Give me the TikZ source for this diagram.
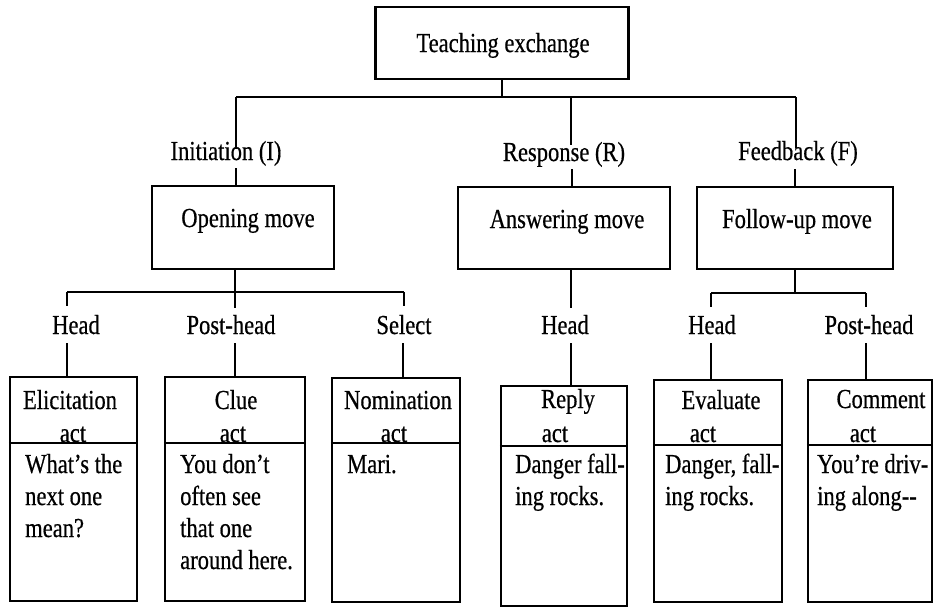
\documentclass[tikz,border=0pt]{standalone}
\usepackage{fontspec}
\setmainfont{Liberation Serif}[FakeStretch=0.82,FakeBold=0.5]
\begin{document}
\begin{tikzpicture}[x=1pt,y=-1pt,
  bx/.style={draw, line width=2.2pt, inner sep=0pt},
  conn/.style={line width=2.2pt},
  lbl/.style={inner sep=0pt, anchor=base, font=\fontsize{27.5pt}{32pt}\selectfont},
  body/.style={inner sep=0pt, anchor=base west, align=left, font=\fontsize{27.5pt}{32pt}\selectfont}]
\useasboundingbox[fill=white] (0,0) rectangle (935,608);

% ---- boxes ----
\node[bx, minimum width=253, minimum height=72] (top) at (502,43) {};
\node[bx, minimum width=182, minimum height=83] (open) at (243,227.5) {};
\node[bx, minimum width=212, minimum height=82] (ans) at (564,228) {};
\node[bx, minimum width=196, minimum height=82] (fol) at (795,228) {};

\node[bx, minimum width=127, minimum height=224] (a1) at (73.5,489) {};
\node[bx, minimum width=140, minimum height=224] (a2) at (235,489) {};
\node[bx, minimum width=128, minimum height=224] (a3) at (396,490) {};
\node[bx, minimum width=126, minimum height=220] (a4) at (564,496) {};
\node[bx, minimum width=128, minimum height=222] (a5) at (718,491) {};
\node[bx, minimum width=124, minimum height=222] (a6) at (870,491) {};

% dividers
\draw[conn] (a1.west |- 0,443) -- (a1.east |- 0,443);
\draw[conn] (a2.west |- 0,443) -- (a2.east |- 0,443);
\draw[conn] (a3.west |- 0,443) -- (a3.east |- 0,443);
\draw[conn] (a4.west |- 0,446) -- (a4.east |- 0,446);
\draw[conn] (a5.west |- 0,445) -- (a5.east |- 0,445);
\draw[conn] (a6.west |- 0,445) -- (a6.east |- 0,445);

% ---- texts ----
\node[lbl] (tt) at (503,52) {Teaching exchange};
\node[lbl] (li) at (226,160) {Initiation (I)};
\node[lbl] (lr) at (564,161) {Response (R)};
\node[lbl] (lf) at (798,160) {Feedback (F)};
\node[lbl] (to) at (248,227) {Opening move};
\node[lbl] (ta) at (567,228) {Answering move};
\node[lbl] (tf) at (797,228) {Follow-up move};

\node[lbl] (h1) at (76,334) {Head};
\node[lbl] (h2) at (231,334) {Post-head};
\node[lbl] (h3) at (404,334) {Select};
\node[lbl] (h4) at (565,334) {Head};
\node[lbl] (h5) at (712,334) {Head};
\node[lbl] (h6) at (869,334) {Post-head};

\node[lbl] (n1) at (70,409) {Elicitation};
\node[lbl] (c1) at (73,442) {act};
\node[lbl] (n2) at (236,409) {Clue};
\node[lbl] (c2) at (233,442) {act};
\node[lbl] (n3) at (398,409) {Nomination};
\node[lbl] (c3) at (394,442) {act};
\node[lbl] (n4) at (568,408) {Reply};
\node[lbl] (c4) at (555,442) {act};
\node[lbl] (n5) at (721,409) {Evaluate};
\node[lbl] (c5) at (703,442) {act};
\node[lbl] (n6) at (881,408) {Comment};
\node[lbl] (c6) at (863,442) {act};

% body texts: base anchor = last line's baseline (first line at 473, step 32)
\node[body] (b1) at (25,537) {What’s the\\next one\\mean?};
\node[body] (b2) at (180,569) {You don’t\\often see\\that one\\around here.};
\node[body] (b3) at (347,473) {Mari.};
\node[body] (b4) at (515,505) {Danger fall-\\ing rocks.};
\node[body] (b5) at (665,505) {Danger, fall-\\ing rocks.};
\node[body] (b6) at (817,505) {You’re driv-\\ing along-{}-};

% ---- connectors ----
\coordinate (jL) at (236,97);
\coordinate (jR) at (796,97);
\draw[conn] (top.south) -- (top.south |- jL);
\draw[conn] (jL) -- (jR);
\draw[conn] (jL) -- (236,149);
\draw[conn] (571,97) -- (571,145);
\draw[conn] (jR) -- (796,148);
\draw[conn] (236,168) -- (236,0 |- open.north);
\draw[conn] (572,169) -- (572,0 |- ans.north);
\draw[conn] (795,169) -- (795,0 |- fol.north);

\coordinate (kL) at (67,292);
\coordinate (kR) at (404,292);
\draw[conn] (235,0 |- open.south) -- (235,308);
\draw[conn] (kL) -- (kR);
\draw[conn] (kL) -- (67,306);
\draw[conn] (kR) -- (404,306);
\draw[conn] (571,0 |- ans.south) -- (571,308);
\coordinate (mL) at (711,293);
\coordinate (mR) at (866,293);
\draw[conn] (795,0 |- fol.south) -- (795,293);
\draw[conn] (mL) -- (mR);
\draw[conn] (mL) -- (711,307);
\draw[conn] (mR) -- (866,307);

\draw[conn] (67,343) -- (67,0 |- a1.north);
\draw[conn] (235,343) -- (235,0 |- a2.north);
\draw[conn] (403,343) -- (403,0 |- a3.north);
\draw[conn] (571,343) -- (571,0 |- a4.north);
\draw[conn] (711,343) -- (711,0 |- a5.north);
\draw[conn] (866,343) -- (866,0 |- a6.north);
\end{tikzpicture}
\end{document}
